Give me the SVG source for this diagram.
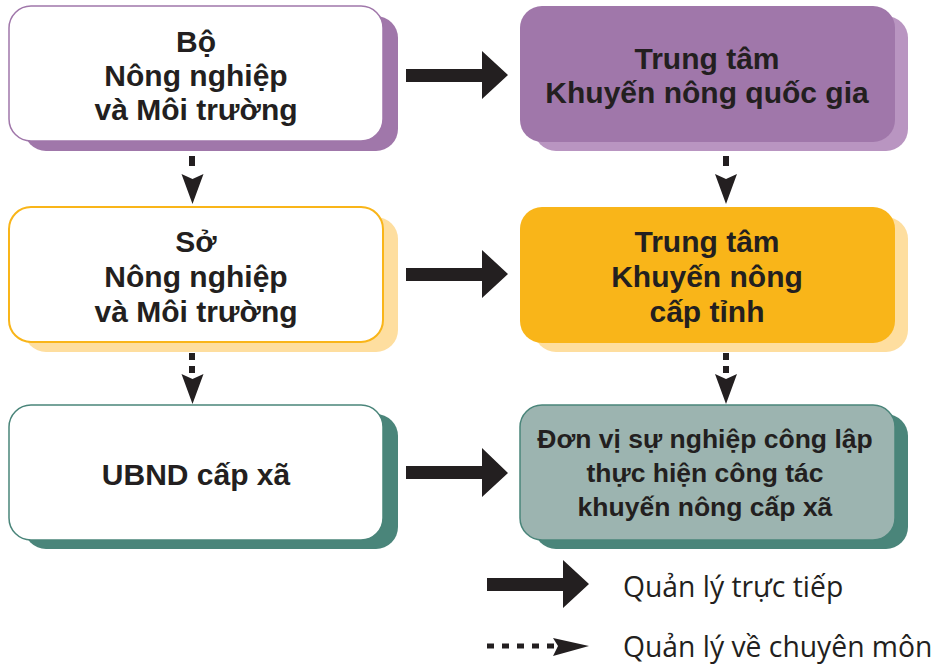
<svg xmlns="http://www.w3.org/2000/svg" width="934" height="665" viewBox="0 0 934 665">
<style>
.t{font-family:"Liberation Sans",Arial,sans-serif;font-weight:bold;font-size:30px;fill:#231f20;text-anchor:middle}
.ts{font-size:26.5px}
.lg{font-family:"Open Sans","Noto Sans","DejaVu Sans",sans-serif;font-size:28.3px;fill:#231f20}
.ar{fill:#231f20}
</style>
<defs>
<path id="vhead" d="M-11,0 L0,5 L11,0 L0,30 Z"/>
</defs>
<rect width="934" height="665" fill="#ffffff"/>
<g id="bo">
<rect x="24" y="16" width="374" height="135" rx="22" fill="#a077aa"/>
<rect x="9" y="6" width="374" height="135" rx="22" fill="#ffffff" stroke="#a077aa" stroke-width="1.5"/>
<text class="t" x="196" y="52">Bộ</text>
<text class="t" x="196" y="86">Nông nghiệp</text>
<text class="t" x="196" y="120">và Môi trường</text>
</g>
<g id="tt-qg">
<rect x="534" y="16" width="374" height="135" rx="22" fill="#b995c1"/>
<rect x="520" y="6" width="375" height="136" rx="22" fill="#a077aa"/>
<text class="t" x="707" y="69">Trung tâm</text>
<text class="t" x="707" y="103">Khuyến nông quốc gia</text>
</g>
<g id="so">
<rect x="24" y="217" width="374" height="135" rx="22" fill="#fede9f"/>
<rect x="9" y="207" width="374" height="135" rx="22" fill="#ffffff" stroke="#f9b519" stroke-width="2"/>
<text class="t" x="196" y="252">Sở</text>
<text class="t" x="196" y="287">Nông nghiệp</text>
<text class="t" x="196" y="322">và Môi trường</text>
</g>
<g id="tt-tinh">
<rect x="534" y="217" width="374" height="135" rx="22" fill="#fede9f"/>
<rect x="520" y="207" width="375" height="136" rx="22" fill="#f9b519"/>
<text class="t" x="707" y="252">Trung tâm</text>
<text class="t" x="707" y="287">Khuyến nông</text>
<text class="t" x="707" y="322">cấp tỉnh</text>
</g>
<g id="ubnd">
<rect x="24" y="414" width="374" height="135" rx="22" fill="#4a857a"/>
<rect x="9" y="405" width="374" height="135" rx="22" fill="#ffffff" stroke="#4a857a" stroke-width="1.5"/>
<text class="t" x="196" y="485">UBND cấp xã</text>
</g>
<g id="dvsn">
<rect x="534" y="414" width="374" height="135" rx="22" fill="#4a857a"/>
<rect x="520" y="405" width="375" height="135" rx="22" fill="#9cb4b0" stroke="#4a857a" stroke-width="1.5"/>
<text class="t ts" x="705" y="448">Đơn vị sự nghiệp công lập</text>
<text class="t ts" x="705" y="482">thực hiện công tác</text>
<text class="t ts" x="705" y="516">khuyến nông cấp xã</text>
</g>
<g id="connectors">
<path class="ar" d="M406,69 H482 V51 L508,75 L482,99 V82 H406 Z"/>
<path class="ar" d="M406,268 H482 V250 L508,274 L482,298 V281 H406 Z"/>
<path class="ar" d="M406,466 H482 V448 L508,473 L482,497 V479 H406 Z"/>
<rect class="ar" x="189" y="156" width="6" height="10"/>
<use href="#vhead" class="ar" x="192.5" y="174"/>
<rect class="ar" x="189" y="353" width="6" height="7"/>
<rect class="ar" x="189" y="366" width="6" height="7"/>
<use href="#vhead" class="ar" x="192.5" y="374"/>
<rect class="ar" x="723" y="156" width="6" height="10"/>
<use href="#vhead" class="ar" x="726" y="174"/>
<rect class="ar" x="723" y="353" width="6" height="7"/>
<rect class="ar" x="723" y="366" width="6" height="7"/>
<use href="#vhead" class="ar" x="726" y="374"/>
</g>
<g id="legend">
<path class="ar" d="M487,578 H563 V560 L589,584 L563,608 V591 H487 Z"/>
<path d="M487,646 H556" stroke="#231f20" stroke-width="5" stroke-dasharray="7,8"/>
<path class="ar" d="M553,638 L589,646 L553,656 L558,646 Z"/>
<text class="lg" x="623" y="597">Quản lý trực tiếp</text>
<text class="lg" x="623" y="657">Quản lý về chuyên môn</text>
</g>
</svg>
